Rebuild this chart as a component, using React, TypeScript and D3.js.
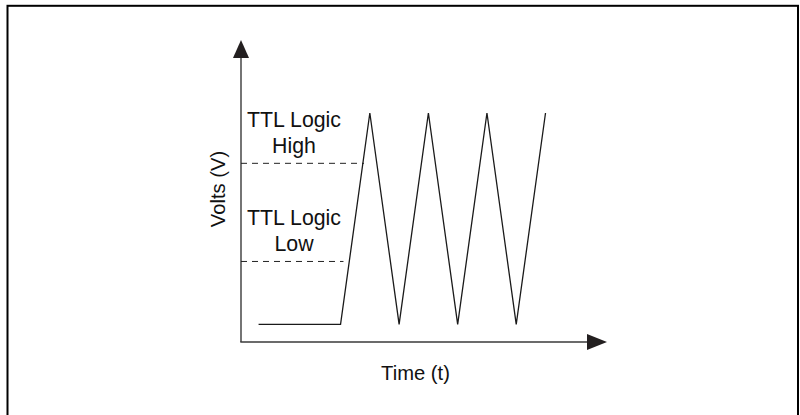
import React from "react";
import * as d3 from "d3";

const W = 800;
const H = 415;

// Signal (time, volts) – arbitrary units
const signalTime = [0.6, 3.4, 4.4, 5.4, 6.4, 7.4, 8.4, 9.4, 10.4];
const signalVolts = [0.35, 0.35, 4.55, 0.35, 4.55, 0.35, 4.55, 0.35, 4.55];

// Threshold levels
const thresholdNames = ["High", "Low"];
const thresholdVolts = [3.55, 1.6];
// where dashed lines end (time)
const thresholdEnds = [4.2, 3.5];

const xLabel = "Time (t)";
const yLabel = "Volts (V)";

export default function App() {
  const x = d3.scaleLinear().domain([0, 12.5]).range([241, 607]);
  const y = d3.scaleLinear().domain([0, 6]).range([342, 40]);

  const pts = signalTime.map((t, i) => [t, signalVolts[i]] as [number, number]);
  const line = d3
    .line<[number, number]>()
    .x((d) => x(d[0]))
    .y((d) => y(d[1]));

  const axisColor = "#3a3a3a";
  const arrowColor = "#231f20";
  const font = "Arial, 'Liberation Sans', Helvetica, sans-serif";

  const x0 = x(0);
  const y0 = y(0);
  const yTop = y(6);
  const xEnd = x(12.5);

  return (
    <svg
      width={W}
      height={H}
      style={{ position: "fixed", left: 0, top: 0, background: "#fff" }}
    >
      <rect x={7.5} y={5.8} width={790.5} height={430} fill="#fff" stroke="#000" strokeWidth={2} />

      {/* Axes */}
      <line x1={x0} y1={y0} x2={x0} y2={yTop + 17} stroke={axisColor} strokeWidth={1.4} />
      <path
        d={`M${x0},${yTop} L${x0 - 8},${yTop + 18} L${x0 + 8},${yTop + 18} Z`}
        fill={arrowColor}
      />
      <line x1={x0 - 0.7} y1={y0} x2={xEnd - 19} y2={y0} stroke={axisColor} strokeWidth={1.6} />
      <path
        d={`M${xEnd},${y0} L${xEnd - 20},${y0 - 8} L${xEnd - 20},${y0 + 8} Z`}
        fill={arrowColor}
      />

      {/* Thresholds */}
      {thresholdVolts.map((v, i) => (
        <g key={thresholdNames[i]}>
          <line
            x1={x0}
            x2={x(thresholdEnds[i])}
            y1={y(v)}
            y2={y(v)}
            stroke="#222"
            strokeWidth={1}
            strokeDasharray="6,5"
          />
          <text
            x={294}
            y={y(v) - 36}
            textAnchor="middle"
            fontFamily={font}
            fontSize={21.3}
            fill="#111"
          >
            TTL Logic
          </text>
          <text
            x={294}
            y={y(v) - 10}
            textAnchor="middle"
            fontFamily={font}
            fontSize={21.3}
            fill="#111"
          >
            {thresholdNames[i]}
          </text>
        </g>
      ))}

      {/* Signal */}
      <path d={line(pts) || ""} fill="none" stroke="#1a1a1a" strokeWidth={1.3} strokeLinejoin="miter" />

      {/* Axis labels */}
      <text
        x={415.5}
        y={379.5}
        textAnchor="middle"
        fontFamily={font}
        fontSize={20.2}
        fill="#111"
      >
        {xLabel}
      </text>
      <text
        transform={`translate(225,189) rotate(-90)`}
        textAnchor="middle"
        fontFamily={font}
        fontSize={20.2}
        fill="#111"
      >
        {yLabel}
      </text>
    </svg>
  );
}
